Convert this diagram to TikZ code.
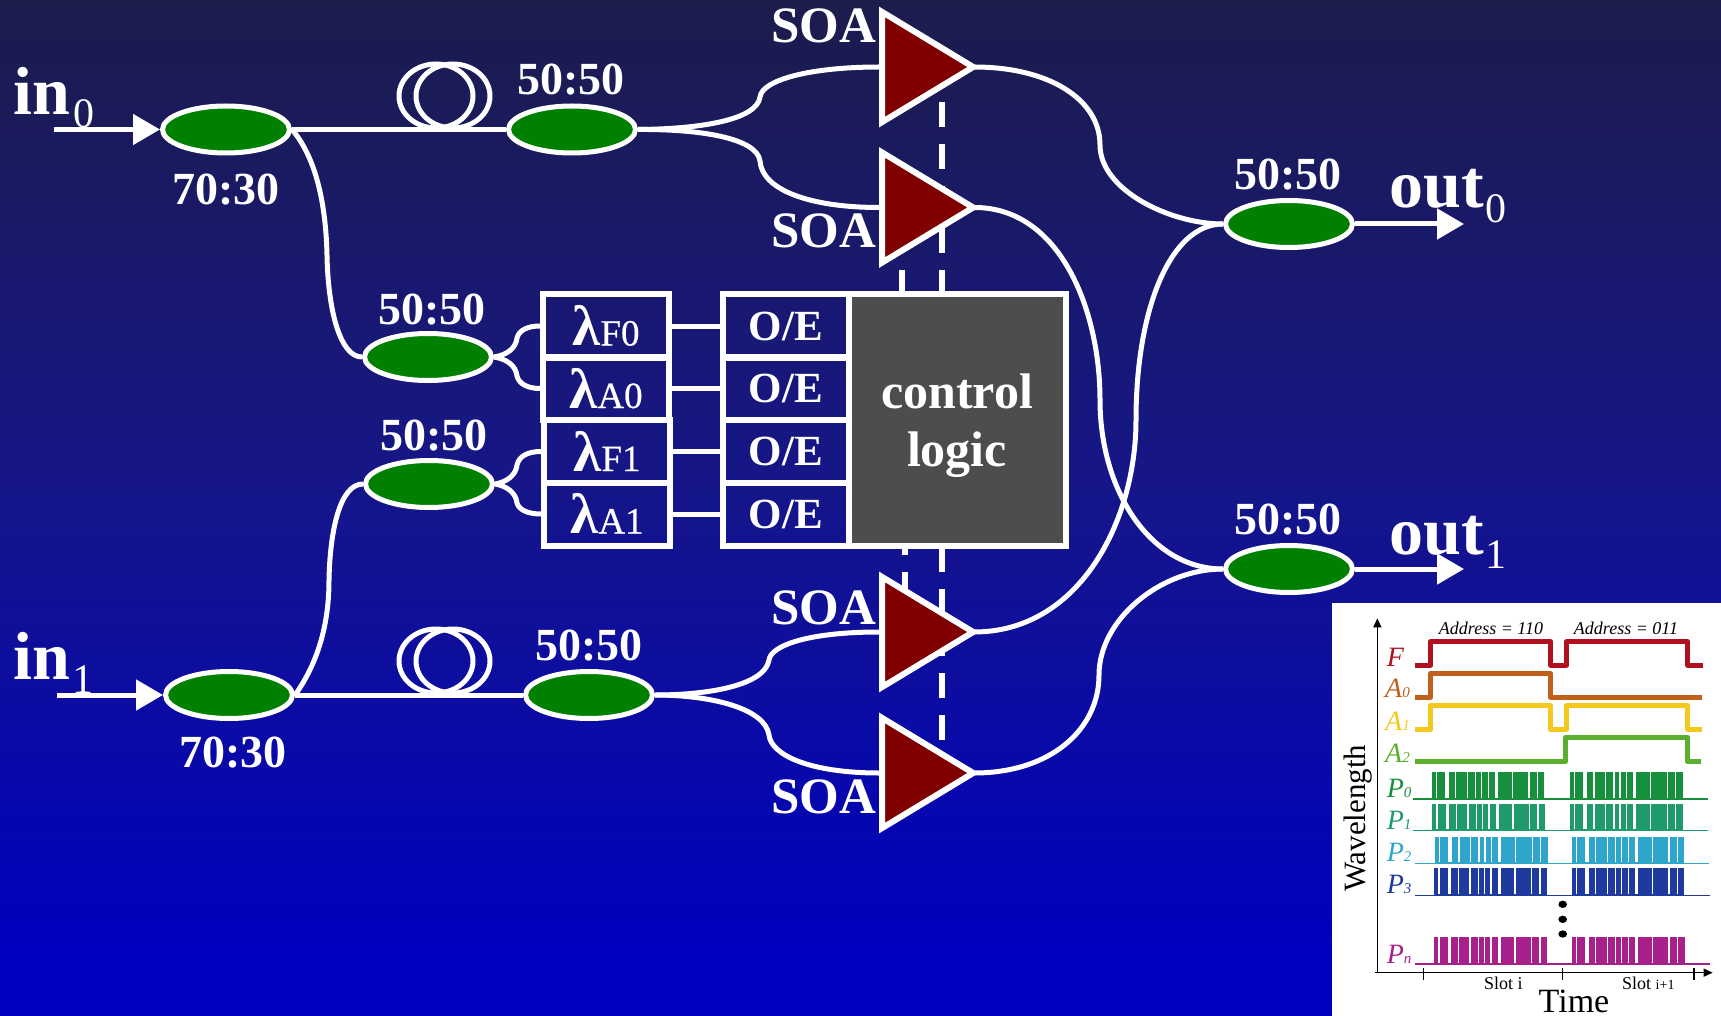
\documentclass[tikz,border=0pt]{standalone}
\usepackage{fontspec}
\setmainfont{Liberation Serif}
\usetikzlibrary{arrows.meta,shapes.geometric}
\definecolor{bgtop}{RGB}{28,28,76}
\definecolor{bgmid}{RGB}{22,22,136}
\definecolor{bgbot}{RGB}{0,0,192}
\definecolor{cpl}{RGB}{0,128,0}
\definecolor{amp}{RGB}{128,0,0}
\definecolor{logicfill}{RGB}{77,77,77}
\definecolor{sF}{RGB}{176,16,32}
\definecolor{sAa}{RGB}{192,96,28}
\definecolor{sAb}{RGB}{244,200,28}
\definecolor{sAc}{RGB}{90,176,44}
\definecolor{sPa}{RGB}{22,144,60}
\definecolor{sPb}{RGB}{31,154,106}
\definecolor{sPc}{RGB}{46,166,204}
\definecolor{sPd}{RGB}{30,58,158}
\definecolor{sPn}{RGB}{168,32,140}
\newcommand{\fsz}[1]{\fontsize{#1}{#1}\selectfont}
\newcommand{\pulseburst}[6]{%
  % colour, x1, x2 second burst start, y base, y top, width
  \fill[#1] (#2,#5) rectangle ++(#6,{#4-#5});
  \fill[#1] (#3,#5) rectangle ++(#6,{#4-#5});
  \foreach \sx in {#2,#3}{
    \foreach \g in {12,70,105,130,148,168,240,290,315}
      \fill[white] ({\sx+\g},#5-1) rectangle ++(4,{#4-#5-3});
    \fill[white] ({\sx+40},#5-1) rectangle ++(11,{#4-#5-3});
    \fill[white] ({\sx+190},#5-1) rectangle ++(9,{#4-#5-3});
  }
}
\tikzset{
  px/.style={x=1pt,y=-1pt},
  fibre/.style={draw=white,line width=5pt},
  dashline/.style={draw=white,line width=6pt,dash pattern=on 25pt off 17pt},
  coupler/.style={ellipse,draw=white,line width=5pt,fill=cpl,minimum width=127pt,minimum height=47pt,inner sep=0pt},
  loopcoil/.style={ellipse,draw=white,line width=5pt,minimum width=74pt,minimum height=64pt,inner sep=0pt},
  soabox/.style={isosceles triangle,isosceles triangle stretches=true,draw=white,line width=6pt,fill=amp,minimum width=110pt,minimum height=91pt,inner sep=0pt,anchor=apex},
  arrowfib/.style={draw=white,line width=5pt,-{Triangle[length=27pt,width=30pt,fill=white]}},
  txt/.style={text=white,inner sep=0pt,anchor=base},
  ratio/.style={txt,font=\fsz{46}\bfseries},
  soalbl/.style={txt,font=\fsz{51}\bfseries},
  port/.style={text=white,inner sep=0pt,anchor=base west,font=\fsz{68}\bfseries},
  portsub/.style={text=white,inner sep=0pt,anchor=base west,font=\fsz{42}},
  lbox/.style={rectangle,draw=white,line width=6pt,minimum width=126pt,minimum height=63pt,inner sep=0pt,text=white,text height=39pt,text depth=0pt},
  oebox/.style={rectangle,draw=white,line width=6pt,minimum width=126pt,minimum height=63pt,inner sep=0pt,text=white,text height=28pt,text depth=0pt,font=\fsz{43}\bfseries},
  logicbox/.style={rectangle,draw=white,line width=6pt,fill=logicfill,minimum width=217pt,minimum height=251pt,inner sep=0pt,text=white,align=center},
  sig/.style={line width=5pt,line join=round},
  ilbl/.style={inner sep=0pt,anchor=base west,font=\fsz{28}\itshape},
  axisl/.style={draw=black,line width=1.3pt},
  itxt/.style={text=black,inner sep=0pt,anchor=base},
}
\newcommand{\lam}[2]{{\fsz{57}\bfseries λ}{\fsz{37}\addfontfeature{FakeBold=0.6}#1#2}}
\begin{document}
\begin{tikzpicture}[px]
\useasboundingbox (0,0) rectangle (1721,1016);
\shade[top color=bgtop,bottom color=bgbot,middle color=bgmid] (0,0) rectangle (1721,956);
\fill[bgbot] (0,955) rectangle (1721,1016);

% control dashes (behind the amplifiers and the logic box)
\coordinate (da0) at (942,102); \coordinate (da1) at (942,295);
\coordinate (db0) at (902,270); \coordinate (db1) at (902,295);
\coordinate (dc0) at (942,547); \coordinate (dc1) at (942,740);
\coordinate (dd0) at (905,530); \coordinate (dd1) at (905,597);
\draw[dashline] (da0) -- (da1);
\draw[dashline] (db0) -- (db1);
\draw[dashline] (dc0) -- (dc1);
\draw[dashline] (dd0) -- (dd1);

% couplers
\node[coupler] (ci0) at (226,129.5) {};
\node[coupler] (ct0) at (572,129.5) {};
\node[coupler] (sp0) at (428,357) {};
\node[coupler] (sp1) at (429,484) {};
\node[coupler] (ci1) at (229,695) {};
\node[coupler] (ct1) at (589,695) {};
\node[coupler] (co0) at (1289,224) {};
\node[coupler] (co1) at (1289,569) {};

% delay coils
\node[loopcoil] (la0) at (436,96) {};
\node[loopcoil] (lb0) at (453,96) {};
\node[loopcoil] (la1) at (436,661) {};
\node[loopcoil] (lb1) at (453,661) {};

% SOAs
\node[soabox] (s0) at (981,67) {};
\node[soabox] (s1) at (981,207.5) {};
\node[soabox] (s2) at (981,632) {};
\node[soabox] (s3) at (981,773) {};

% boxes
\node[lbox] (lf0) at (606,326) {\lam{F}{0}};
\node[lbox] (la0b) at (606,388.5) {\lam{A}{0}};
\node[lbox] (lf1) at (607,451.5) {\lam{F}{1}};
\node[lbox] (la1b) at (607,514) {\lam{A}{1}};
\node[oebox] (oe0) at (786,326) {O/E};
\node[oebox] (oe1) at (786,388.5) {O/E};
\node[oebox] (oe2) at (786,451.5) {O/E};
\node[oebox] (oe3) at (786,514) {O/E};
\node[logicbox] (ctl) at (957.5,420) {};
\node[txt,font=\fsz{50}\bfseries] (ctla) at (957,408) {control};
\node[txt,font=\fsz{50}\bfseries] (ctlb) at (957,466) {logic};

% straight fibres
\coordinate (ain0) at (54,129.5);
\coordinate (ain1) at (57,695);
\coordinate (aout0) at (1464,224);
\coordinate (aout1) at (1464,569);
\draw[arrowfib] (ain0) -- (ci0.west);
\draw[arrowfib] (ain1) -- (ci1.west);
\draw[arrowfib] (co0.east) -- (aout0);
\draw[arrowfib] (co1.east) -- (aout1);
\draw[fibre] (ci0.east) -- (ct0.west);
\draw[fibre] (ci1.east) -- (ct1.west);
\draw[fibre] (lf0.east) -- (oe0.west);
\draw[fibre] (la0b.east) -- (oe1.west);
\draw[fibre] (lf1.east) -- (oe2.west);
\draw[fibre] (la1b.east) -- (oe3.west);

% tapped branches
\draw[fibre] (ci0.east) .. controls (318,160) and (326,210) .. (327,255) .. controls (328,310) and (340,357) .. (sp0.west);
\draw[fibre] (ci1.east) .. controls (320,660) and (329,620) .. (329,580) .. controls (330,530) and (340,484) .. (sp1.west);

% splitters to filters
\draw[fibre] (sp0.east) .. controls (507,355) and (516,348) .. (517,338) .. controls (519,330) and (528,326) .. (lf0.west);
\draw[fibre] (sp0.east) .. controls (507,359) and (516,366) .. (517,376) .. controls (519,384) and (528,388.5) .. (la0b.west);
\draw[fibre] (sp1.east) .. controls (507,482) and (516,475) .. (517,465) .. controls (519,456) and (528,451.5) .. (lf1.west);
\draw[fibre] (sp1.east) .. controls (507,486) and (516,493) .. (517,503) .. controls (519,510) and (528,514) .. (la1b.west);

% into SOAs
\draw[fibre] (ct0.east) .. controls (700,129) and (757,120) .. (760,97) .. controls (762,80) and (810,67) .. (s0.lower side);
\draw[fibre] (ct0.east) .. controls (700,129) and (757,138) .. (760,161) .. controls (762,190) and (810,207.5) .. (s1.lower side);
\draw[fibre] (ct1.east) .. controls (710,695) and (765,685) .. (769,660) .. controls (771,645) and (810,632) .. (s2.lower side);
\draw[fibre] (ct1.east) .. controls (710,695) and (765,708) .. (769,735) .. controls (771,755) and (810,773) .. (s3.lower side);

% out of SOAs
\draw[fibre] ([xshift=-7pt]s0.apex) .. controls (1050,67) and (1100,100) .. (1100,145) .. controls (1100,190) and (1170,224) .. (co0.west);
\draw[fibre] ([xshift=-7pt]s1.apex) .. controls (1060,207) and (1100,310) .. (1100,400) .. controls (1100,490) and (1150,569) .. (co1.west);
\draw[fibre] ([xshift=-7pt]s2.apex) .. controls (1080,632) and (1136,520) .. (1136,420) .. controls (1136,310) and (1170,224) .. (co0.west);
\draw[fibre] ([xshift=-7pt]s3.apex) .. controls (1050,773) and (1099,730) .. (1099,675) .. controls (1099,620) and (1160,569) .. (co1.west);

% labels
\node[port] (tin0) at (13,115) {in};
\node[portsub] (tin0s) at (73,128) {0};
\node[port] (tin1) at (13,679) {in};
\node[portsub] (tin1s) at (72,693) {1};
\node[port] (tout0) at (1389,208) {out};
\node[portsub] (tout0s) at (1485,223) {0};
\node[port] (tout1) at (1389,554) {out};
\node[portsub] (tout1s) at (1485,568) {1};
\node[ratio] (r1) at (226,205) {70:30};
\node[ratio] (r2) at (571,95) {50:50};
\node[ratio] (r3) at (432,324) {50:50};
\node[ratio] (r4) at (434,450) {50:50};
\node[ratio] (r5) at (589,660) {50:50};
\node[ratio] (r6) at (233,767) {70:30};
\node[ratio] (r7) at (1288,190) {50:50};
\node[ratio] (r8) at (1288,534) {50:50};
\node[soalbl] (t0) at (824,43) {SOA};
\node[soalbl] (t1) at (824,248) {SOA};
\node[soalbl] (t2) at (824,624) {SOA};
\node[soalbl] (t3) at (824,813) {SOA};

% inset
\fill[white] (1332,603) rectangle (1721,1016);
\begin{scope}[shift={(1320,590)},x=0.33333pt,y=-0.33333pt]
  \draw[axisl,-{Triangle[length=9pt,width=8pt]}] (165,1148) -- (1178,1148);
  \draw[axisl,-{Triangle[length=9pt,width=8pt]}] (172,1148) -- (172,85);
  \draw[axisl] (310,1135) -- (310,1170);
  \draw[axisl] (727,1135) -- (727,1170);
  \draw[axisl] (1122,1135) -- (1122,1170);
  \draw[sig,sF] (285,225) -- (332,225) -- (332,155) -- (692,155) -- (692,225) -- (740,225) -- (740,155) -- (1103,155) -- (1103,225) -- (1148,225);
  \draw[sig,sAa] (285,322) -- (332,322) -- (332,250) -- (692,250) -- (692,322) -- (1146,322);
  \draw[sig,sAb] (285,418) -- (332,418) -- (332,347) -- (692,347) -- (692,418) -- (740,418) -- (740,347) -- (1103,347) -- (1103,418) -- (1146,418);
  \draw[sig,sAc] (285,515) -- (737,515) -- (737,442) -- (1103,442) -- (1103,515) -- (1143,515);
  \draw[sPa,line width=1.5pt] (280,627) -- (1165,627);
  \draw[sPb,line width=1.5pt] (280,722) -- (1165,722);
  \draw[sPc,line width=1.5pt] (285,820) -- (1168,820);
  \draw[sPd,line width=1.5pt] (285,916) -- (1170,916);
  \draw[sPn,line width=1.5pt] (285,1122) -- (1170,1122);
  \pulseburst{sPa}{335}{750}{627}{547}{338}
  \pulseburst{sPb}{337}{750}{722}{643}{338}
  \pulseburst{sPc}{345}{755}{820}{740}{338}
  \pulseburst{sPd}{343}{755}{916}{835}{338}
  \pulseburst{sPn}{343}{755}{1122}{1042}{339}
  \node[ilbl,text=sF] (iF) at (200,228) {F};
  \node[ilbl,text=sAa] (iA0) at (195,322) {A\fsz{15}0};
  \node[ilbl,text=sAb] (iA1) at (195,420) {A\fsz{15}1};
  \node[ilbl,text=sAc] (iA2) at (195,517) {A\fsz{15}2};
  \node[ilbl,text=sPa] (iP0) at (200,622) {P\fsz{15}0};
  \node[ilbl,text=sPb] (iP1) at (200,718) {P\fsz{15}1};
  \node[ilbl,text=sPc] (iP2) at (200,815) {P\fsz{15}2};
  \node[ilbl,text=sPd] (iP3) at (200,910) {P\fsz{15}3};
  \node[ilbl,text=sPn] (iPn) at (200,1120) {P\fsz{15}n};
  \node[itxt,font=\fsz{18}\itshape] (iad0) at (513,134) {Address = 110};
  \node[itxt,font=\fsz{18}\itshape] (iad1) at (918,134) {Address = 011};
  \node[itxt,font=\fsz{31},rotate=90] (iw) at (135,685) {Wavelength};
  \node[itxt,font=\fsz{34}] (iti) at (762,1266) {Time};
  \node[itxt,font=\fsz{18}] (isl0) at (550,1197) {Slot i};
  \node[itxt,font=\fsz{18}] (isl1) at (985,1197) {Slot {\fsz{14}i+1}};
  \fill[black] (728,943) ellipse [x radius=13,y radius=11];
  \fill[black] (728,988) ellipse [x radius=13,y radius=11];
  \fill[black] (728,1032) ellipse [x radius=13,y radius=11];
\end{scope}
\end{tikzpicture}
\end{document}
